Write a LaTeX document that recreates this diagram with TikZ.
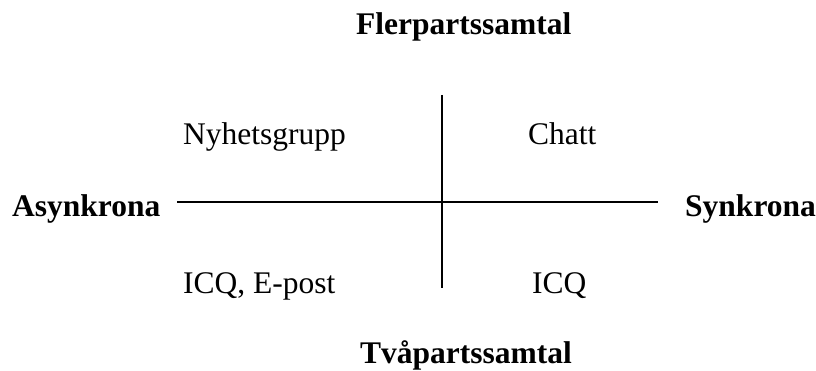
\documentclass[tikz,border=0pt]{standalone}
\usepackage{fontspec}
\setmainfont{Liberation Serif}
\usepackage{tikz}

\begin{document}
\begin{tikzpicture}[x=1pt,y=-1pt,
  lbl/.style={anchor=base west,inner sep=0pt,font=\fontsize{31.5}{36}\selectfont},
  axlbl/.style={lbl,font=\fontsize{31.5}{36}\selectfont\bfseries}]
\useasboundingbox (0,0) rectangle (816,371);
\coordinate (N) at (442,95);
\coordinate (S) at (442,288);
\coordinate (W) at (177,202);
\coordinate (E) at (658,202);
\draw[line width=1.5pt] (N) -- (S);
\draw[line width=1.5pt] (W) -- (E);
\node[axlbl] (fler) at (356,35) {Flerpartssamtal};
\node[axlbl] (tva) at (360,363.5) {Tvåpartssamtal};
\node[axlbl] (asyn) at (12,217) {Asynkrona};
\node[axlbl] (syn) at (685,217) {Synkrona};
\node[lbl] (nyhet) at (183,145) {Nyhetsgrupp};
\node[lbl] (chatt) at (528,145) {Chatt};
\node[lbl] (epost) at (183,293) {ICQ, E-post};
\node[lbl] (icq) at (532,293) {ICQ};
\end{tikzpicture}
\end{document}
